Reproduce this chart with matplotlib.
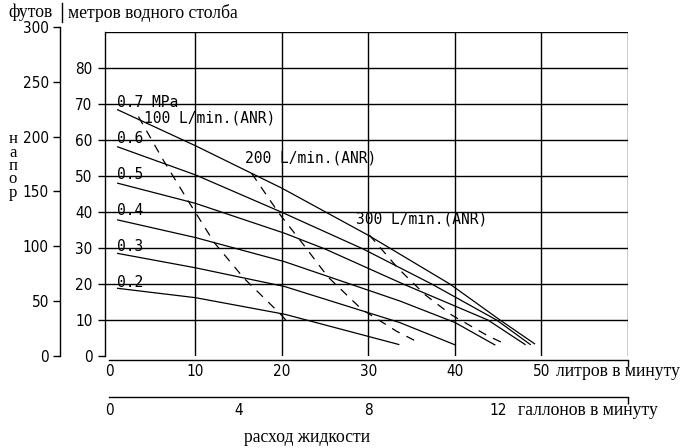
import matplotlib
matplotlib.use("Agg")
import matplotlib.pyplot as plt
from matplotlib.lines import Line2D
from matplotlib import font_manager as fm

# ---------------- data ----------------
pressures = ["0.7 MPa", "0.6", "0.5", "0.4", "0.3", "0.2"]
label_levels_m = [70, 60, 50, 40, 30, 20]

p07_x = [1, 10, 20, 30, 39.4, 45.2, 49.2]
p07_y = [68.4, 58.4, 46.6, 33.5, 20, 10, 3.4]
p06_x = [1, 10, 20, 29.4, 37.3, 44.8, 48.7]
p06_y = [58.1, 50.3, 39.9, 29.7, 20, 10, 3.2]
p05_x = [1, 10, 20.3, 25, 34, 43.8, 48.1]
p05_y = [48.0, 42.4, 34.1, 29.7, 20, 10, 3.2]
p04_x = [1, 10, 20.3, 33.6, 40, 44.6]
p04_y = [37.8, 32.9, 26.2, 15.3, 9.3, 3.1]
p03_x = [1, 10, 20.3, 33.6, 40]
p03_y = [28.5, 24.5, 19.3, 9.3, 3.1]
p02_x = [1, 10, 20.3, 33.5]
p02_y = [18.8, 16.2, 11.6, 3.2]

air100_x = [3.4, 6.2, 9.2, 12.2, 15.6, 19.8, 21.0]
air100_y = [66.5, 54.7, 42.9, 31.4, 21.6, 11.7, 8.5]
air200_x = [16.5, 19.6, 22.3, 25.3, 29.2, 33.3, 36.0]
air200_y = [50.7, 39.8, 31.5, 22.0, 13.0, 6.8, 3.5]
air300_x = [30.1, 33.4, 36.6, 39.6, 43.8, 46.0]
air300_y = [33.6, 24.4, 16.9, 11.4, 5.6, 3.1]

air_labels = ["100 L/min.(ANR)", "200 L/min.(ANR)", "300 L/min.(ANR)"]
air_label_pos = [(4.0, 66.0), (15.7, 55.1), (28.6, 38.0)]

lpm_ticks = [0, 10, 20, 30, 40, 50]
lpm_grid = [10, 20, 30, 40, 50, 60]
m_ticks = [0, 10, 20, 30, 40, 50, 60, 70, 80]
m_grid = [10, 20, 30, 40, 50, 60, 70, 80, 90]
ft_ticks = [0, 50, 100, 150, 200, 250, 300]
gal_ticks = [0, 4, 8, 12]

X_MAX = 60
Y_MAX_M = 90
M_PER_FT = 0.3048
L_PER_GAL = 3.75

# ---------------- fonts ----------------
names = {f.name for f in fm.fontManager.ttflist}
if "Liberation Sans Narrow" in names:
    num_fp = fm.FontProperties(family="Liberation Sans Narrow", size=11.5)
elif "DejaVu Sans Condensed" in names:
    num_fp = fm.FontProperties(family="DejaVu Sans Condensed", size=11)
else:
    num_fp = fm.FontProperties(family="DejaVu Sans", stretch="condensed", size=11)

mono_font = ["DejaVu Sans Mono"]
serif_font = ["Liberation Serif", "DejaVu Serif"]
serif_size = 12.7

# ---------------- layout ----------------
W, H = 694, 448
fig = plt.figure(figsize=(W / 100, H / 100), dpi=100)

def fx(px):
    return px / W

def fy(py):
    return 1 - py / H

ax_left_px, ax_right_px = 105, 628
ax_bottom_px, ax_top_px = 356, 32
x0_px = 109
px_per_l = (ax_right_px - x0_px) / X_MAX
xmin = -(x0_px - ax_left_px) / px_per_l

ax = fig.add_axes([fx(ax_left_px), fy(ax_bottom_px),
                   (ax_right_px - ax_left_px) / W,
                   (ax_bottom_px - ax_top_px) / H])
ax.set_xlim(xmin, X_MAX)
ax.set_ylim(0, Y_MAX_M)

for s in ["top", "right"]:
    ax.spines[s].set_visible(False)
ax.spines["left"].set_bounds(0, Y_MAX_M)
ax.spines["bottom"].set_bounds(0, X_MAX)
ax.spines["bottom"].set_position(("outward", 3))
for s in ["left", "bottom"]:
    ax.spines[s].set_linewidth(1.0)

ax.set_yticks(m_ticks)
ax.set_yticklabels([str(v) for v in m_ticks], fontproperties=num_fp)
ax.tick_params(axis="y", direction="out", length=5, width=1, pad=4)
ax.set_xticks(lpm_ticks)
ax.set_xticklabels([str(v) for v in lpm_ticks], fontproperties=num_fp)
ax.tick_params(axis="x", which="major", length=0, pad=3)
ax.set_xticks([0, X_MAX], minor=True)
ax.tick_params(axis="x", which="minor", direction="out", length=5, width=1)

for v in m_grid:
    ax.axhline(v, color="black", lw=1.0, zorder=1)
for v in lpm_grid:
    ax.axvline(v, color="black", lw=1.0, zorder=1)

series = [(p07_x, p07_y), (p06_x, p06_y), (p05_x, p05_y),
          (p04_x, p04_y), (p03_x, p03_y), (p02_x, p02_y)]
for xs, ys in series:
    ax.plot(xs, ys, color="black", lw=0.9, zorder=3)

for xs, ys in [(air100_x, air100_y), (air200_x, air200_y), (air300_x, air300_y)]:
    ax.plot(xs, ys, color="black", lw=0.9, linestyle=(0, (7, 6)), zorder=3)

for lab, lvl in zip(pressures, label_levels_m):
    ax.text(0.9, lvl + 0.3, lab, fontfamily=mono_font, fontsize=10.5,
            ha="left", va="center", zorder=2)

for lab, (x, y) in zip(air_labels, air_label_pos):
    ax.text(x, y, lab, fontfamily=mono_font, fontsize=10.5,
            ha="left", va="center", zorder=2)

# ---------------- feet axis ----------------
ft_top_px = ax_bottom_px - 300 * M_PER_FT * (ax_bottom_px - ax_top_px) / Y_MAX_M
ax_ft = fig.add_axes([fx(60), fy(ax_bottom_px), 0.5 / W,
                      (ax_bottom_px - ft_top_px) / H])
ax_ft.set_ylim(0, 300)
ax_ft.patch.set_visible(False)
for s in ["top", "right", "bottom"]:
    ax_ft.spines[s].set_visible(False)
ax_ft.spines["left"].set_linewidth(1.0)
ax_ft.set_xticks([])
ax_ft.set_yticks(ft_ticks)
ax_ft.set_yticklabels([str(v) for v in ft_ticks], fontproperties=num_fp)
ax_ft.tick_params(axis="y", direction="out", length=5, width=1, pad=3)

# ---------------- gallons axis ----------------
gal_axis_px = 397
ax_gal = fig.add_axes([fx(ax_left_px), fy(gal_axis_px),
                       (ax_right_px - ax_left_px) / W, 0.001])
ax_gal.set_xlim(xmin / L_PER_GAL, X_MAX / L_PER_GAL)
ax_gal.patch.set_visible(False)
for s in ["top", "right", "left"]:
    ax_gal.spines[s].set_visible(False)
ax_gal.spines["bottom"].set_bounds(0, X_MAX / L_PER_GAL)
ax_gal.spines["bottom"].set_linewidth(1.0)
ax_gal.set_yticks([])
ax_gal.set_xticks(gal_ticks)
ax_gal.set_xticklabels([str(v) for v in gal_ticks], fontproperties=num_fp)
ax_gal.tick_params(axis="x", which="major", length=0, pad=4)
ax_gal.set_xticks([0, X_MAX / L_PER_GAL], minor=True)
ax_gal.tick_params(axis="x", which="minor", direction="out", length=5, width=1)

# ---------------- texts ----------------
fig.text(fx(53), fy(17), "футов", fontfamily=serif_font, fontsize=serif_size,
         ha="right", va="baseline")
fig.add_artist(Line2D([fx(61.5), fx(61.5)], [fy(3), fy(22)], color="black", lw=1.0))
fig.text(fx(68), fy(18), "метров водного столба", fontfamily=serif_font,
         fontsize=serif_size, ha="left", va="baseline")
fig.text(fx(13), fy(166), "н\nа\nп\nо\nр", fontfamily=serif_font, fontsize=12,
         ha="center", va="center", linespacing=0.78, multialignment="center")
fig.text(fx(556), fy(371), "литров в минуту", fontfamily=serif_font,
         fontsize=serif_size, ha="left", va="center")
fig.text(fx(518), fy(410), "галлонов в минуту", fontfamily=serif_font,
         fontsize=serif_size, ha="left", va="center")
fig.text(fx(307), fy(437), "расход жидкости", fontfamily=serif_font,
         fontsize=serif_size, ha="center", va="center")

fig.savefig("out.png", dpi=100)
